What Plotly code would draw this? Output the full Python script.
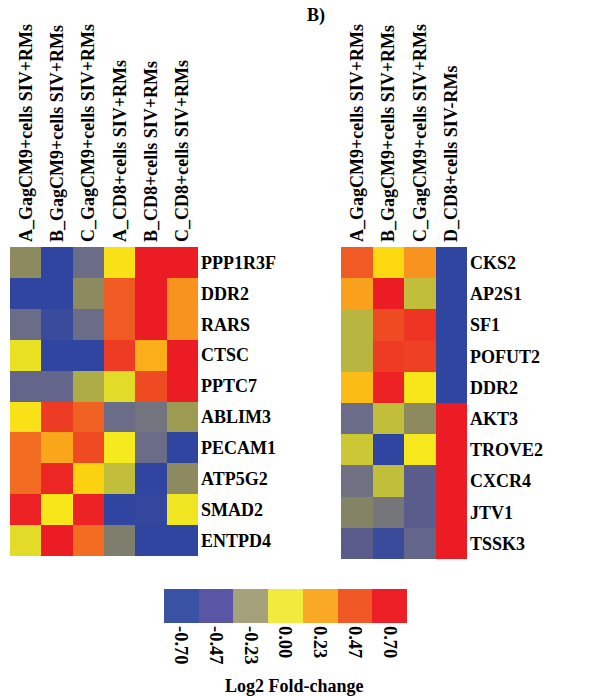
import plotly.graph_objects as go

# ---------------- data ----------------
left_cols = ["A_GagCM9+cells SIV+RMs", "B_GagCM9+cells SIV+RMs", "C_GagCM9+cells SIV+RMs",
             "A_CD8+cells SIV+RMs", "B_CD8+cells SIV+RMs", "C_CD8+cells SIV+RMs"]
left_genes = ["PPP1R3F", "DDR2", "RARS", "CTSC", "PPTC7",
              "ABLIM3", "PECAM1", "ATP5G2", "SMAD2", "ENTPD4"]
left_vals = [
    [-0.25, -0.70, -0.40, 0.05, 0.70, 0.70],
    [-0.70, -0.70, -0.25, 0.50, 0.70, 0.35],
    [-0.40, -0.65, -0.40, 0.50, 0.70, 0.35],
    [-0.02, -0.70, -0.70, 0.60, 0.25, 0.70],
    [-0.45, -0.45, -0.15, -0.03, 0.55, 0.70],
    [0.05, 0.60, 0.48, -0.40, -0.36, -0.20],
    [0.45, 0.28, 0.55, 0.00, -0.40, -0.70],
    [0.45, 0.66, 0.12, -0.10, -0.70, -0.25],
    [0.68, 0.02, 0.68, -0.70, -0.68, -0.01],
    [-0.03, 0.70, 0.45, -0.30, -0.70, -0.70],
]

right_cols = ["A_GagCM9+cells SIV+RMs", "B_GagCM9+cells SIV+RMs",
              "C_GagCM9+cells SIV+RMs", "D_CD8+cells SIV-RMs"]
right_genes = ["CKS2", "AP2S1", "SF1", "POFUT2", "DDR2",
               "AKT3", "TROVE2", "CXCR4", "JTV1", "TSSK3"]
right_vals = [
    [0.50, 0.10, 0.35, -0.70],
    [0.30, 0.70, -0.10, -0.70],
    [-0.12, 0.55, 0.62, -0.70],
    [-0.12, 0.60, 0.58, -0.70],
    [0.20, 0.68, 0.02, -0.70],
    [-0.40, -0.10, -0.25, 0.70],
    [-0.08, -0.70, 0.01, 0.70],
    [-0.38, -0.10, -0.50, 0.70],
    [-0.28, -0.35, -0.50, 0.70],
    [-0.50, -0.65, -0.45, 0.70],
]

legend_ticks = ["-0.70", "-0.47", "-0.23", "0.00", "0.23", "0.47", "0.70"]
legend_vals = [-0.70, -0.47, -0.23, 0.00, 0.23, 0.47, 0.70]
legend_colors = ["#3a52a3", "#5a55a5", "#a4a07c", "#f2ea3c", "#f9a823", "#f05a25", "#ec1f26"]

# continuous scale used by the heatmap cells (value -> colour)
cell_scale_vals = [-0.70, -0.50, -0.40, -0.30, -0.25, -0.12, -0.03, 0.00, 0.10, 0.25, 0.35, 0.50, 0.70]
cell_scale_cols = ["#2f45a0", "#5a5c8c", "#6b6d88", "#7f7e6c", "#8c8a5e", "#b8b640", "#e2dc28",
                   "#f5ea1d", "#fbd80f", "#fbae1a", "#f7931e", "#f05a23", "#ec1c24"]

ZMIN, ZMAX = -0.70, 0.70
cell_scale = [[(v - ZMIN) / (ZMAX - ZMIN), c] for v, c in zip(cell_scale_vals, cell_scale_cols)]
n = len(legend_colors)
legend_scale = []
for i, c in enumerate(legend_colors):
    legend_scale.append([i / (n - 1), c])

FONT = "Liberation Serif"
tf = dict(family=FONT, size=18, color="#000000", weight="bold")
tf_leg = dict(family=FONT, size=18.5, color="#000000", weight="bold")

W, H = 611, 696


def px_x(a, b):
    return [a / W, b / W]


def px_y(top, bottom):
    return [1 - bottom / H, 1 - top / H]


fig = go.Figure()

fig.add_trace(go.Heatmap(z=left_vals, x=left_cols, y=left_genes, colorscale=cell_scale,
                         zmin=ZMIN, zmax=ZMAX, showscale=False, xaxis="x", yaxis="y"))
fig.add_trace(go.Heatmap(z=right_vals, x=right_cols, y=right_genes, colorscale=cell_scale,
                         zmin=ZMIN, zmax=ZMAX, showscale=False, xaxis="x2", yaxis="y2"))
fig.add_trace(go.Heatmap(z=[legend_vals], x=legend_ticks, y=["scale"], colorscale=legend_scale,
                         zmin=ZMIN, zmax=ZMAX, showscale=False, xaxis="x3", yaxis="y3"))

common_x = dict(side="top", tickangle=-90, tickfont=tf, showgrid=False, zeroline=False,
                ticks="", showline=False, ticklabelstandoff=4)
common_y = dict(side="right", tickfont=tf, showgrid=False, zeroline=False, ticks="",
                showline=False, autorange="reversed", ticklabelstandoff=2)

fig.update_layout(
    width=W, height=H, margin=dict(l=0, r=0, t=0, b=0),
    paper_bgcolor="white", plot_bgcolor="white",
    xaxis=dict(domain=px_x(10, 198), anchor="y", **common_x),
    yaxis=dict(domain=px_y(247, 556), anchor="x", **common_y),
    xaxis2=dict(domain=px_x(341, 467), anchor="y2", **common_x),
    yaxis2=dict(domain=px_y(247, 559), anchor="x2", **common_y),
    xaxis3=dict(domain=px_x(164, 407), anchor="y3", side="bottom", tickangle=90, tickfont=tf_leg,
                showgrid=False, zeroline=False, ticks="", showline=False, ticklabelstandoff=2),
    yaxis3=dict(domain=px_y(589, 623), anchor="x3", showticklabels=False, showgrid=False,
                zeroline=False, ticks=""),
    annotations=[
        dict(text="B)", x=316 / W, y=1 - 15 / H, xref="paper", yref="paper",
             showarrow=False, font=tf, xanchor="center", yanchor="middle"),
        dict(text="Log2 Fold-change", x=294 / W, y=1 - 686 / H, xref="paper", yref="paper",
             showarrow=False, font=tf, xanchor="center", yanchor="middle"),
    ],
)

fig.write_html("out.html")
